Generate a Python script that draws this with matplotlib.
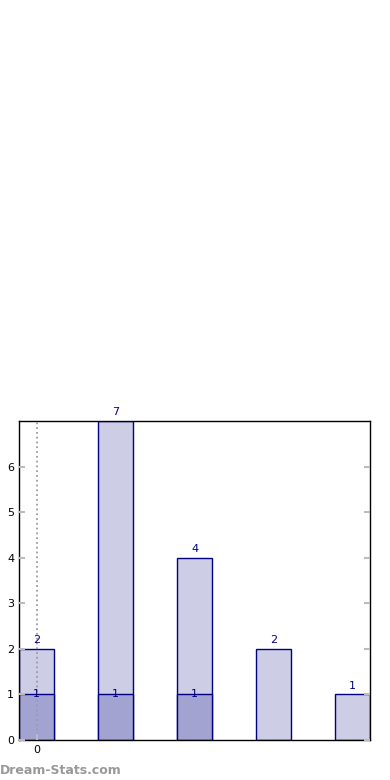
import matplotlib
matplotlib.use("Agg")
import matplotlib.pyplot as plt

# bar groups: total count and highlighted part
positions = [0, 1, 2, 3, 4]
totals = [2, 7, 4, 2, 1]
highlighted = [1, 1, 1, 0, 0]
xtick_labels = ["0"]

light = "#cdcde5"
dark = "#a3a3d1"
edge = "#000080"

fig = plt.figure(figsize=(3.9, 7.8), dpi=100)
ax = fig.add_axes([19 / 390, 40 / 780, 351 / 390, 319 / 780])

width = 0.45
ax.bar(positions, totals, width=width, color=light, edgecolor=edge, linewidth=1, zorder=2)
for x, v in zip(positions, totals):
    ax.text(x, v + 0.08, str(v), ha="center", va="bottom", color=edge, fontsize=8, zorder=5)

hx = [x for x, v in zip(positions, highlighted) if v > 0]
hv = [v for v in highlighted if v > 0]
ax.bar(hx, hv, width=width, color=dark, edgecolor=edge, linewidth=1, zorder=2.2)
for x, v in zip(hx, hv):
    ax.text(x, v, str(v), ha="center", va="center", color=edge, fontsize=8, zorder=5)

ax.set_xlim(-width / 2, positions[-1] + width / 2)
ax.set_ylim(0, max(totals))
ax.set_xticks([0])
ax.set_xticklabels(xtick_labels, fontsize=8)
ax.set_yticks(range(0, 7))
ax.tick_params(axis="both", direction="in", colors="#bbbbbb", labelcolor="black", labelsize=8,
               right=True, length=4, width=1.5)
# grid drawn over the bars, like the reference
ax.set_axisbelow(False)
ax.xaxis.grid(True, linestyle=":", color="#9a9aaa", linewidth=1.3)
for s in ax.spines.values():
    s.set_color("black")
    s.set_linewidth(1)

fig.text(0.0, 3 / 780, "Dream-Stats.com", color="#999999", fontsize=9, fontweight="semibold",
         ha="left", va="bottom")

fig.savefig("out.png", dpi=100)
